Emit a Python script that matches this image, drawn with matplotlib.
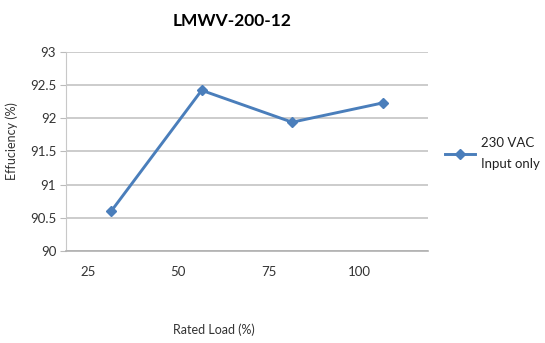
import numpy as np
import matplotlib.pyplot as plt

FONT = "Lato"

loads = ["25", "50", "75", "100"]
efficiency = [90.6, 92.42, 91.94, 92.23]
series_name = "230 VAC\nInput only"

fig = plt.figure(figsize=(5.45, 3.43), dpi=100)
ax = fig.add_axes([0.121, 0.268, 0.664, 0.581])

x = np.arange(len(loads)) + 0.5
ax.plot(x, efficiency, color="#4a7ebb", linewidth=2.1, marker="D",
        markersize=5, label=series_name)

ax.set_xlim(0, len(loads))
ax.set_ylim(90, 93)
ax.set_yticks(np.arange(90, 93.01, 0.5))
ax.set_yticklabels(["90", "90.5", "91", "91.5", "92", "92.5", "93"])
ax.set_xticks(np.arange(len(loads)) + 0.24)
ax.set_xticklabels(loads)
ax.tick_params(axis="x", length=0, pad=11, labelsize=9.5, labelcolor="#333333")
ax.tick_params(axis="y", length=4, color="#bbbbbb", pad=3, labelsize=9.5,
               labelcolor="#333333")
for lbl in ax.get_xticklabels() + ax.get_yticklabels():
    lbl.set_family(FONT)

ax.grid(axis="y", color="#c4c4c4", linewidth=1.2)
ax.set_axisbelow(True)
for side in ["top", "right"]:
    ax.spines[side].set_visible(False)
ax.spines["left"].set_color("#c8c8c8")
ax.spines["bottom"].set_color("#b0b0b0")
ax.spines["bottom"].set_linewidth(1.2)

fig.text(0.425, 0.94, "LMWV-200-12", ha="center", va="center",
         fontsize=12.5, fontweight="bold", family=FONT)
fig.text(0.022, 0.59, "Effuciency (%)", rotation=90, ha="center", va="center",
         fontsize=9, family=FONT, color="#333333")
fig.text(0.393, 0.04, "Rated Load (%)", ha="center", va="center",
         fontsize=9, family=FONT, color="#333333")

leg = ax.legend(loc="center left", bbox_to_anchor=(1.015, 0.49), frameon=False,
                prop={"family": FONT, "size": 9.5}, handlelength=2.3,
                handletextpad=0.4)
for t in leg.get_texts():
    t.set_linespacing(1.9)
    t.set_color("#222222")

fig.savefig("out.png", dpi=100)
